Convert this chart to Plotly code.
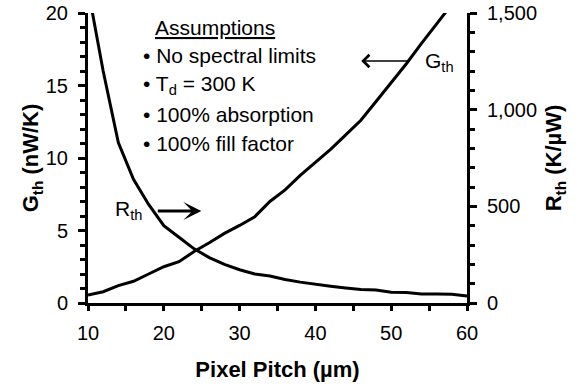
import plotly.graph_objects as go

pitch = [10, 12, 14, 16, 18, 20, 22, 24, 26, 28, 30, 32, 34, 36, 38, 40, 42, 44, 46, 48, 50, 52, 54, 56, 58, 60]
g_th = [0.55, 0.78, 1.2, 1.5, 2.0, 2.5, 2.85, 3.55, 4.15, 4.8, 5.35, 5.95, 7.0, 7.8, 8.8, 9.7, 10.6, 11.6, 12.6, 13.9, 15.2, 16.5, 17.9, 19.2, 20.6, 22.0]
r_th = [1625, 1200, 830, 640, 510, 400, 340, 280, 235, 200, 172, 150, 140, 122, 108, 96, 87, 78, 70, 67, 56, 54, 46, 46, 45, 36]

x_ticks = [10, 20, 30, 40, 50, 60]
g_ticks = [0, 5, 10, 15, 20]
r_ticks = [0, 500, 1000, 1500]

assumptions_title = "<u>Assumptions</u>"
assumptions = ["• No spectral limits", "• T<sub>d</sub> = 300 K", "• 100% absorption", "• 100% fill factor"]

FONT = "Liberation Sans, Arial, sans-serif"

fig = go.Figure()
fig.add_trace(go.Scatter(x=pitch, y=g_th, mode="lines", line=dict(color="black", width=3),
                         showlegend=False, yaxis="y", hoverinfo="skip"))
fig.add_trace(go.Scatter(x=pitch, y=r_th, mode="lines", line=dict(color="black", width=3),
                         showlegend=False, yaxis="y2", hoverinfo="skip"))

axis_common = dict(showline=True, linecolor="black", linewidth=3, ticks="outside",
                   tickcolor="black", tickwidth=3, showgrid=False, zeroline=False, automargin=False,
                   ticklabeloverflow="allow",
                   tickfont=dict(family=FONT, size=20, color="black"))

fig.update_layout(
    width=579, height=388,
    margin=dict(l=88, r=112, t=13, b=85, autoexpand=False),
    paper_bgcolor="white", plot_bgcolor="white",
    font=dict(family=FONT, color="black"),
    xaxis=dict(range=[10, 60], tickvals=x_ticks, ticklen=5, ticklabelstandoff=5,
               minor=dict(dtick=5, tick0=0, ticks="outside", ticklen=5, tickwidth=3, tickcolor="black"),
               title=dict(text="<b>Pixel Pitch (µm)</b>", font=dict(family=FONT, size=22), standoff=19),
               **axis_common),
    yaxis=dict(range=[0, 20], tickvals=g_ticks, ticklen=7, ticklabelstandoff=6,
               minor=dict(dtick=1, tick0=0, ticks="outside", ticklen=5, tickwidth=3, tickcolor="black"),
               title=dict(text="<b>G<sub>th</sub> (nW/K)</b>", font=dict(family=FONT, size=22), standoff=0),
               **axis_common),
    yaxis2=dict(range=[0, 1500], tickvals=r_ticks, ticklen=7, overlaying="y", side="right",
                tickformat=",", ticklabelstandoff=6,
                minor=dict(dtick=100, tick0=0, ticks="outside", ticklen=5, tickwidth=3, tickcolor="black"),
                title=dict(text="<b>R<sub>th</sub> (K/µW)</b>", font=dict(family=FONT, size=22), standoff=10),
                **axis_common),
)

ann_font = dict(family=FONT, size=21, color="black")
fig.add_annotation(x=26.7, y=19.03, xref="x", yref="y", text=assumptions_title, showarrow=False,
                   font=ann_font, xanchor="center", yanchor="middle")
for txt, yy in zip(assumptions, [17.1, 15.03, 13.03, 10.97]):
    fig.add_annotation(x=17.03, y=yy, xref="x", yref="y", text=txt, showarrow=False,
                       font=ann_font, xanchor="left", yanchor="middle")

# labels
fig.add_annotation(x=54.24, y=16.6, xref="x", yref="y", text="G<sub>th</sub>", showarrow=False,
                   font=ann_font, xanchor="left", yanchor="middle")
fig.add_annotation(x=13.35, y=6.4, xref="x", yref="y", text="R<sub>th</sub>", showarrow=False,
                   font=ann_font, xanchor="left", yanchor="middle")

# arrows
fig.add_annotation(x=46.05, y=16.69, ax=52.39, ay=16.69, xref="x", yref="y", axref="x", ayref="y",
                   text="", showarrow=True, arrowhead=4, arrowsize=1.6, arrowwidth=1.5,
                   arrowcolor="black", standoff=0, startstandoff=0)
fig.add_annotation(x=24.95, y=6.34, ax=19.01, ay=6.34, xref="x", yref="y", axref="x", ayref="y",
                   text="", showarrow=True, arrowhead=3, arrowsize=1.0, arrowwidth=3,
                   arrowcolor="black", standoff=0, startstandoff=0)

fig.write_html("out.html", config={"displayModeBar": False},
               post_script="document.body.style.margin='0';")
